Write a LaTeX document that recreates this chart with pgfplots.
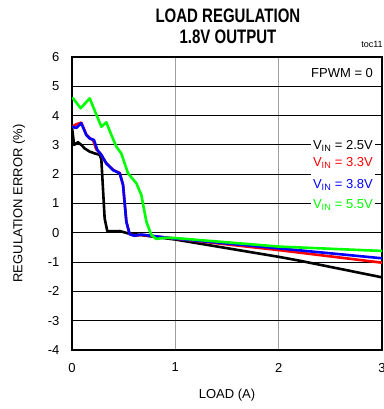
\documentclass[border=0pt]{standalone}
\usepackage{pgfplots}
\pgfplotsset{compat=1.18}
\usepackage{fontspec}
\setmainfont{Liberation Sans}
\definecolor{cgreen}{RGB}{0,255,0}
\definecolor{cred}{RGB}{255,0,0}
\definecolor{cblue}{RGB}{0,0,255}
\definecolor{cgrid}{RGB}{160,160,160}
\begin{document}
\begin{tikzpicture}
\begin{axis}[
  at={(0,0)}, anchor=south west,
  scale only axis, width=310pt, height=293pt,
  xmin=0, xmax=3, ymin=-4, ymax=6,
  xtick={0,1,2,3}, ytick={-4,-3,-2,-1,0,1,2,3,4,5,6},
  major tick length=0pt,
  xmajorgrids, ymajorgrids,
  x grid style={cgrid, line width=1.1pt},
  y grid style={black, line width=0.9pt},
  axis line style={black, line width=2.6pt},
  clip mode=individual,
  /pgf/number format/assume math mode=true,
  tick label style={font=\fontsize{13}{13}\selectfont},
  yticklabel style={xshift=-9pt},
  xticklabel style={yshift=-9.5pt},
  xlabel={LOAD (A)},
  ylabel={REGULATION ERROR (\%)},
  label style={font=\fontsize{13}{13}\selectfont},
  xlabel style={at={(axis description cs:0.5,-0.1536)}, anchor=center},
  ylabel style={at={(axis description cs:-0.171,0.5)}, anchor=center, rotate=0},
  title={\scalebox{1}[1.3]{LOAD REGULATION}\\\scalebox{1}[1.3]{1.8V OUTPUT}},
  title style={align=center, font=\bfseries\fontsize{15}{20.5}\selectfont,
    at={(axis description cs:0.503,1.085)}, anchor=center},
  every axis plot/.append style={line width=2.6pt, line join=round, line cap=round},
]
\addplot[black] coordinates {
(0,3.6) (0.02,3.0) (0.058,3.09) (0.09,3.0) (0.123,2.88) (0.171,2.77) (0.22,2.71)
(0.268,2.66) (0.284,2.50) (0.316,0.49) (0.342,0.05) (0.462,0.06) (0.542,-0.02)
(1,-0.23) (2,-0.82) (2.2,-0.95) (3,-1.52)};
\addplot[cred] coordinates {
(0,3.62) (0.04,3.70) (0.09,3.76) (0.138,3.36) (0.171,3.24) (0.205,3.15) (0.235,2.85)
(0.28,2.68) (0.33,2.38) (0.397,2.15) (0.462,2.04) (0.494,1.64) (0.526,0.38)
(0.558,-0.05) (0.607,-0.10) (0.671,-0.07) (1,-0.2) (2,-0.59) (3,-1.02)};
\addplot[cblue] coordinates {
(0,3.62) (0.042,3.58) (0.09,3.74) (0.138,3.34) (0.171,3.22) (0.213,3.17) (0.245,2.83)
(0.284,2.66) (0.332,2.37) (0.397,2.14) (0.462,2.03) (0.494,1.63) (0.526,0.38)
(0.558,-0.05) (0.607,-0.10) (0.671,-0.06) (1,-0.2) (2,-0.53) (3,-0.87)};
\addplot[cgreen] coordinates {
(0,4.59) (0.01,4.59) (0.084,4.25) (0.171,4.59) (0.284,3.62) (0.332,3.77) (0.381,3.34)
(0.429,2.94) (0.477,2.71) (0.542,2.03) (0.623,1.69) (0.671,1.29) (0.72,0.38)
(0.768,-0.08) (0.816,-0.21) (0.897,-0.17) (1,-0.18) (2,-0.47) (3,-0.62)};
\node[anchor=base east, font=\fontsize{13}{13}\selectfont, inner xsep=1pt]
  at (axis cs:2.924,5.31) {FPWM = 0};
\begin{scope}[every node/.style={anchor=base east, fill=white, inner xsep=2pt, inner ysep=5pt,
  font=\fontsize{13}{13}\selectfont}]
\node[text=black] at (axis cs:2.933,2.84) {V\textsubscript{IN} = 2.5V};
\node[text=cred] at (axis cs:2.933,2.26) {V\textsubscript{IN} = 3.3V};
\node[text=cblue] at (axis cs:2.933,1.51) {V\textsubscript{IN} = 3.8V};
\node[text=cgreen] at (axis cs:2.933,0.84) {V\textsubscript{IN} = 5.5V};
\end{scope}
\node[anchor=east, font=\fontsize{9}{9}\selectfont, inner sep=0pt]
  at (axis description cs:1.003,1.044) {toc11};
\end{axis}
\pgfresetboundingbox
\useasboundingbox (-72pt,-59pt) rectangle (311pt,350pt);
\end{tikzpicture}
\end{document}
